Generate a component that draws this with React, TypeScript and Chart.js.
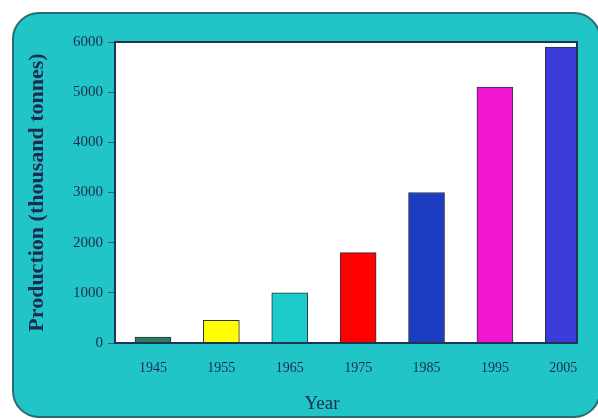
import React, { useEffect, useRef } from "react";
import { Chart, registerables } from "chart.js";

Chart.register(...registerables);

// Production per decade
const years: number[] = [1945, 1955, 1965, 1975, 1985, 1995, 2005];
const production: number[] = [120, 450, 1000, 1800, 3000, 5100, 5900];
const barColors: string[] = ["#2f7d5f", "#ffff00", "#1dcbcb", "#ff0000", "#1c3dbf", "#f015d0", "#3b3bd9"];
const yTicks: number[] = [0, 1000, 2000, 3000, 4000, 5000, 6000];

const yTitle = "Production (thousand tonnes)";
const xTitle = "Year";

const INK = "#1b2c4e";
const SERIF = "'Liberation Serif', 'Times New Roman', serif";

const panelPlugin = {
  id: "panel",
  beforeDraw(chart: any) {
    const { ctx, chartArea, width, height } = chart;
    ctx.save();
    ctx.fillStyle = "#ffffff";
    ctx.fillRect(0, 0, width, height);
    // rounded teal card
    const x = 13, y = 13, w = width + 2 - x, h = height - 2 - y, r = 26;
    ctx.beginPath();
    ctx.moveTo(x + r, y);
    ctx.lineTo(x + w - r, y);
    ctx.arcTo(x + w, y, x + w, y + r, r);
    ctx.lineTo(x + w, y + h - r);
    ctx.arcTo(x + w, y + h, x + w - r, y + h, r);
    ctx.lineTo(x + r, y + h);
    ctx.arcTo(x, y + h, x, y + h - r, r);
    ctx.lineTo(x, y + r);
    ctx.arcTo(x, y, x + r, y, r);
    ctx.closePath();
    ctx.fillStyle = "#22c5c7";
    ctx.fill();
    ctx.lineWidth = 2;
    ctx.strokeStyle = "#2a6a74";
    ctx.stroke();
    // white plotting area
    ctx.fillStyle = "#ffffff";
    ctx.fillRect(chartArea.left, chartArea.top, chartArea.right - chartArea.left, chartArea.bottom - chartArea.top);
    ctx.restore();
  },
  afterDatasetsDraw(chart: any) {
    const { ctx, chartArea } = chart;
    ctx.save();
    ctx.lineWidth = 2;
    ctx.strokeStyle = "#1d3452";
    ctx.strokeRect(chartArea.left, chartArea.top, chartArea.right - chartArea.left, chartArea.bottom - chartArea.top);
    ctx.restore();
  },
  afterDraw(chart: any) {
    const { ctx, chartArea } = chart;
    ctx.save();
    ctx.fillStyle = INK;
    ctx.font = `19px ${SERIF}`;
    ctx.textAlign = "center";
    ctx.textBaseline = "middle";
    ctx.fillText(xTitle, chartArea.left + 207, 404);
    ctx.restore();
  },
};

export default function App() {
  const ref = useRef<HTMLCanvasElement | null>(null);

  useEffect(() => {
    if (!ref.current) return;
    const chart = new Chart(ref.current, {
      type: "bar",
      data: {
        datasets: [
          {
            data: years.map((yr, i) => ({ x: yr, y: production[i] })),
            backgroundColor: barColors,
            borderColor: "#2b3340",
            borderWidth: 1,
            barThickness: 36,
          },
        ],
      },
      options: {
        animation: false,
        responsive: false,
        layout: { padding: { left: 20, top: 42, right: 21, bottom: 0 } },
        plugins: { legend: { display: false }, tooltip: { enabled: false } },
        scales: {
          x: {
            type: "linear",
            offset: false,
            min: 1939.45,
            max: 2007,
            afterBuildTicks: (s: any) => {
              s.ticks = years.map((v) => ({ value: v }));
            },
            afterFit: (s: any) => {
              s.height = 76;
            },
            grid: { display: false, drawTicks: false, offset: false },
            border: { display: false },
            ticks: {
              padding: 17,
              color: INK,
              font: { family: SERIF, size: 14 },
              callback: (v: any) => String(v),
              maxRotation: 0,
              autoSkip: false,
            },
          },
          y: {
            min: 0,
            max: 6000,
            afterBuildTicks: (s: any) => {
              s.ticks = yTicks.map((v) => ({ value: v }));
            },
            afterFit: (s: any) => {
              s.width = 95;
            },
            grid: { drawOnChartArea: false, drawTicks: true, tickLength: 7, color: "#3b5a70", lineWidth: 1 },
            border: { display: false },
            ticks: {
              padding: 5,
              color: INK,
              font: { family: SERIF, size: 15 },
              callback: (v: any) => String(v),
            },
            title: {
              display: true,
              text: yTitle,
              color: INK,
              font: { family: SERIF, size: 22, weight: "bold" },
              padding: { top: 4, bottom: 0 },
            },
          },
        },
      },
      plugins: [panelPlugin],
    });
    return () => chart.destroy();
  }, []);

  return (
    <div style={{ position: "fixed", left: 0, top: 0, width: 598, height: 419 }}>
      <canvas ref={ref} width={598} height={419} />
    </div>
  );
}
